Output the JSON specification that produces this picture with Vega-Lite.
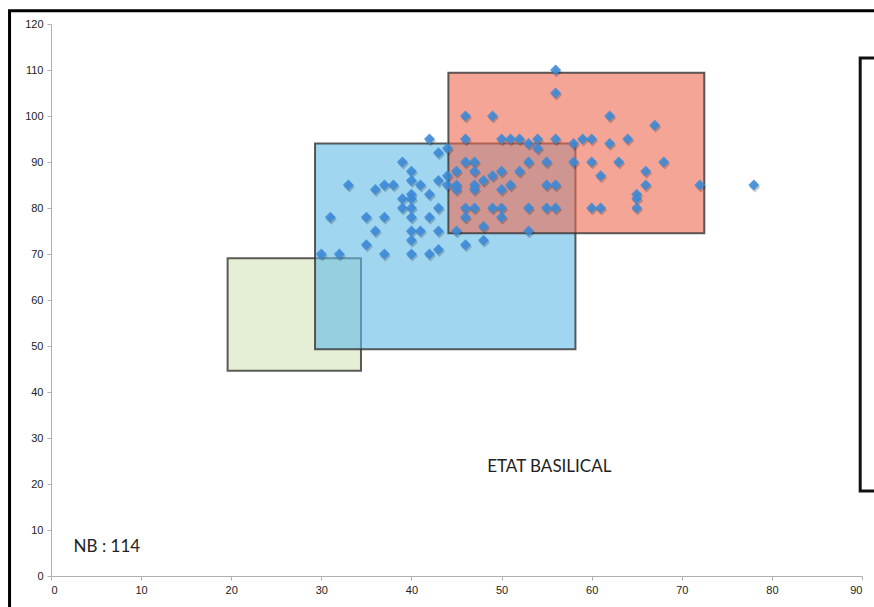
{
  "$schema": "https://vega.github.io/schema/vega-lite/v6.json",
  "width": 811,
  "height": 552,
  "autosize": {"type": "none"},
  "padding": {"left": 51, "top": 24, "right": 12, "bottom": 31},
  "background": "white",
  "config": {
    "view": {"stroke": null},
    "axis": {
      "grid": false,
      "domainColor": "#b0b0b0",
      "tickColor": "#b0b0b0",
      "tickSize": 4,
      "labelFont": "Liberation Sans",
      "labelFontSize": 11,
      "labelColor": "#222222",
      "title": null
    }
  },
  "datasets": {
    "points": [
      {"x": 30, "y": 70}, {"x": 32, "y": 70}, {"x": 31, "y": 78}, {"x": 33, "y": 85},
      {"x": 35, "y": 78}, {"x": 35, "y": 72}, {"x": 36, "y": 84}, {"x": 36, "y": 75},
      {"x": 37, "y": 85}, {"x": 37, "y": 78}, {"x": 37, "y": 70}, {"x": 38, "y": 85},
      {"x": 39, "y": 90}, {"x": 39, "y": 82}, {"x": 39, "y": 80}, {"x": 40, "y": 88},
      {"x": 40, "y": 86}, {"x": 40, "y": 83}, {"x": 40, "y": 82}, {"x": 40, "y": 80},
      {"x": 40, "y": 78}, {"x": 40, "y": 75}, {"x": 40, "y": 73}, {"x": 40, "y": 70},
      {"x": 41, "y": 85}, {"x": 41, "y": 75}, {"x": 42, "y": 95}, {"x": 42, "y": 83},
      {"x": 42, "y": 78}, {"x": 42, "y": 70}, {"x": 43, "y": 92}, {"x": 43, "y": 86},
      {"x": 43, "y": 80}, {"x": 43, "y": 75}, {"x": 43, "y": 71}, {"x": 44, "y": 93},
      {"x": 44, "y": 87}, {"x": 44, "y": 85}, {"x": 45, "y": 88}, {"x": 45, "y": 85},
      {"x": 45, "y": 84}, {"x": 45, "y": 75}, {"x": 46, "y": 100}, {"x": 46, "y": 95},
      {"x": 46, "y": 90}, {"x": 46, "y": 80}, {"x": 46, "y": 78}, {"x": 46, "y": 72},
      {"x": 47, "y": 90}, {"x": 47, "y": 88}, {"x": 47, "y": 85}, {"x": 47, "y": 84},
      {"x": 47, "y": 80}, {"x": 48, "y": 86}, {"x": 48, "y": 76}, {"x": 48, "y": 73},
      {"x": 49, "y": 100}, {"x": 49, "y": 87}, {"x": 49, "y": 80}, {"x": 50, "y": 95},
      {"x": 50, "y": 88}, {"x": 50, "y": 84}, {"x": 50, "y": 80}, {"x": 50, "y": 78},
      {"x": 51, "y": 95}, {"x": 51, "y": 85}, {"x": 52, "y": 95}, {"x": 52, "y": 88},
      {"x": 53, "y": 94}, {"x": 53, "y": 90}, {"x": 53, "y": 80}, {"x": 53, "y": 75},
      {"x": 54, "y": 95}, {"x": 54, "y": 93}, {"x": 55, "y": 90}, {"x": 55, "y": 85},
      {"x": 55, "y": 80}, {"x": 56, "y": 110}, {"x": 56, "y": 105}, {"x": 56, "y": 95},
      {"x": 56, "y": 85}, {"x": 56, "y": 80}, {"x": 58, "y": 94}, {"x": 58, "y": 90},
      {"x": 59, "y": 95}, {"x": 60, "y": 95}, {"x": 60, "y": 90}, {"x": 60, "y": 80},
      {"x": 61, "y": 87}, {"x": 61, "y": 80}, {"x": 62, "y": 100}, {"x": 62, "y": 94},
      {"x": 63, "y": 90}, {"x": 64, "y": 95}, {"x": 65, "y": 83}, {"x": 65, "y": 82},
      {"x": 65, "y": 80}, {"x": 66, "y": 88}, {"x": 66, "y": 85}, {"x": 67, "y": 98},
      {"x": 68, "y": 90}, {"x": 72, "y": 85}, {"x": 78, "y": 85}
    ],
    "zones": [
      {"zone": "vert", "x1": 19.6, "x2": 34.4, "y1": 44.6, "y2": 69.1},
      {"zone": "bleu", "x1": 29.3, "x2": 58.2, "y1": 49.3, "y2": 94.0},
      {"zone": "rouge", "x1": 44.1, "x2": 72.5, "y1": 74.5, "y2": 109.4}
    ]
  },
  "layer": [
    {
      "data": {"values": [{}]},
      "mark": {"type": "rect", "fill": null, "stroke": "#000000", "strokeWidth": 3},
      "encoding": {
        "x": {"datum": -4.6, "type": "quantitative", "scale": {"domain": [0, 90]}},
        "x2": {"datum": 100},
        "y": {"datum": 122.9, "type": "quantitative", "scale": {"domain": [0, 120]}},
        "y2": {"datum": -10}
      }
    },
    {
      "data": {"name": "zones"},
      "mark": {"type": "rect", "fillOpacity": 0.6, "stroke": "#333333", "strokeOpacity": 0.8, "strokeWidth": 2},
      "encoding": {
        "x": {"field": "x1", "type": "quantitative"},
        "x2": {"field": "x2"},
        "y": {"field": "y1", "type": "quantitative"},
        "y2": {"field": "y2"},
        "fill": {
          "field": "zone",
          "type": "nominal",
          "scale": {"domain": ["vert", "bleu", "rouge"], "range": ["#d4e4bb", "#61bbe6", "#ee6950"]},
          "legend": null
        }
      }
    },
    {
      "data": {"name": "points"},
      "mark": {"type": "point", "shape": "diamond", "filled": true, "size": 120, "color": "#000000", "opacity": 0.2, "xOffset": 1, "yOffset": 2},
      "encoding": {
        "x": {"field": "x", "type": "quantitative"},
        "y": {"field": "y", "type": "quantitative"}
      }
    },
    {
      "data": {"name": "points"},
      "mark": {"type": "point", "shape": "diamond", "filled": true, "size": 120, "color": "#3a8ad8", "opacity": 0.88},
      "encoding": {
        "x": {
          "field": "x",
          "type": "quantitative",
          "scale": {"domain": [0, 90], "nice": false, "zero": true},
          "axis": {"values": [0, 10, 20, 30, 40, 50, 60, 70, 80, 90], "labelPadding": 4}
        },
        "y": {
          "field": "y",
          "type": "quantitative",
          "scale": {"domain": [0, 120], "nice": false},
          "axis": {"values": [0, 10, 20, 30, 40, 50, 60, 70, 80, 90, 100, 110, 120], "labelPadding": 4}
        }
      }
    },
    {
      "data": {"values": [{}]},
      "mark": {"type": "rect", "fill": "#ffffff", "stroke": "#111111", "strokeWidth": 3},
      "encoding": {
        "x": {"datum": 89.8, "type": "quantitative"},
        "x2": {"datum": 100},
        "y": {"datum": 112.6, "type": "quantitative"},
        "y2": {"datum": 18.5}
      }
    },
    {
      "data": {"values": [{"label": "NB : 114", "x": 6.2, "y": 6.3}, {"label": "ETAT BASILICAL", "x": 55.3, "y": 23.7}]},
      "mark": {"type": "text", "font": "Lato", "fontSize": 17, "color": "#222222", "align": "center", "baseline": "middle"},
      "encoding": {
        "x": {"field": "x", "type": "quantitative"},
        "y": {"field": "y", "type": "quantitative"},
        "text": {"field": "label"}
      }
    }
  ]
}
